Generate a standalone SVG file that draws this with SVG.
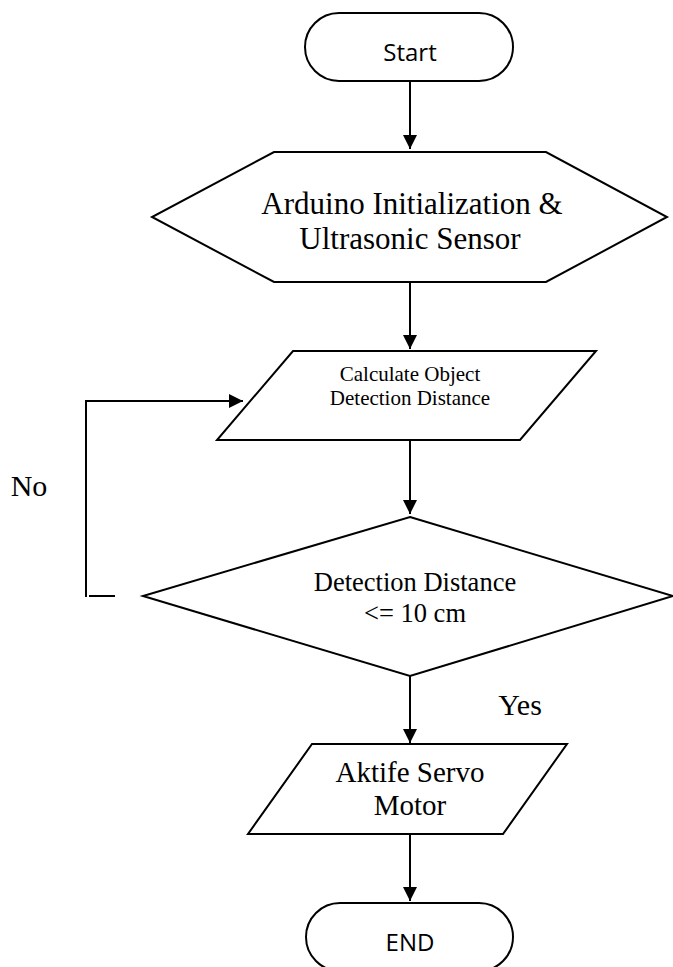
<svg xmlns="http://www.w3.org/2000/svg" width="673" height="967" viewBox="0 0 673 967">
<style>
.shape{fill:#fff;stroke:#000;stroke-width:2;stroke-linejoin:miter}
.conn{fill:none;stroke:#000;stroke-width:2}
.serif{font-family:"Liberation Serif","Times New Roman",serif;fill:#000;text-anchor:middle}
.sans{font-family:"Open Sans","Noto Sans",sans-serif;fill:#000;text-anchor:middle}
</style>
<defs>
<marker id="arrow" markerUnits="userSpaceOnUse" markerWidth="14" markerHeight="14" refX="14" refY="7" orient="auto">
<path d="M0,0 L14,7 L0,14 z" fill="#000"/>
</marker>
</defs>
<rect width="673" height="967" fill="#fff"/>
<g id="connectors">
<line class="conn" x1="410" y1="81" x2="410" y2="149" marker-end="url(#arrow)"/>
<line class="conn" x1="410" y1="282" x2="410" y2="349" marker-end="url(#arrow)"/>
<line class="conn" x1="410" y1="440" x2="410" y2="514" marker-end="url(#arrow)"/>
<line class="conn" x1="410" y1="676" x2="410" y2="743" marker-end="url(#arrow)"/>
<line class="conn" x1="410" y1="834" x2="410" y2="901" marker-end="url(#arrow)"/>
<path class="conn" d="M86,597 V401 H243" marker-end="url(#arrow)"/>
<line class="conn" x1="89" y1="596" x2="115" y2="596"/>
<text class="serif" x="29" y="496" font-size="30">No</text>
<text class="serif" x="520" y="715" font-size="30">Yes</text>
</g>
<g id="start">
<rect class="shape" x="305" y="13" width="208" height="68" rx="34" ry="34"/>
<text class="sans" x="410" y="61" font-size="24">Start</text>
</g>
<g id="init">
<polygon class="shape" points="274,152 546,152 667,217 546,282 274,282 152,217"/>
<text class="serif" x="412" y="214" font-size="31">Arduino Initialization &amp;</text>
<text class="serif" x="410" y="249" font-size="31">Ultrasonic Sensor</text>
</g>
<g id="calc">
<polygon class="shape" points="293,351 596,351 520,440 217,440"/>
<text class="serif" x="410" y="381" font-size="21">Calculate Object</text>
<text class="serif" x="410" y="405" font-size="21">Detection Distance</text>
</g>
<g id="decision">
<polygon class="shape" points="410,517 673,596 410,676 143,596"/>
<text class="serif" x="415" y="591" font-size="26.5">Detection Distance</text>
<text class="serif" x="415" y="622" font-size="26.5">&lt;= 10 cm</text>
</g>
<g id="servo">
<polygon class="shape" points="312,744 567,744 503,834 248,834"/>
<text class="serif" x="410" y="782" font-size="29">Aktife Servo</text>
<text class="serif" x="410" y="815" font-size="29">Motor</text>
</g>
<g id="end">
<rect class="shape" x="306" y="903" width="207" height="68" rx="34" ry="34"/>
<text class="sans" x="410" y="951" font-size="24">END</text>
</g>
</svg>
